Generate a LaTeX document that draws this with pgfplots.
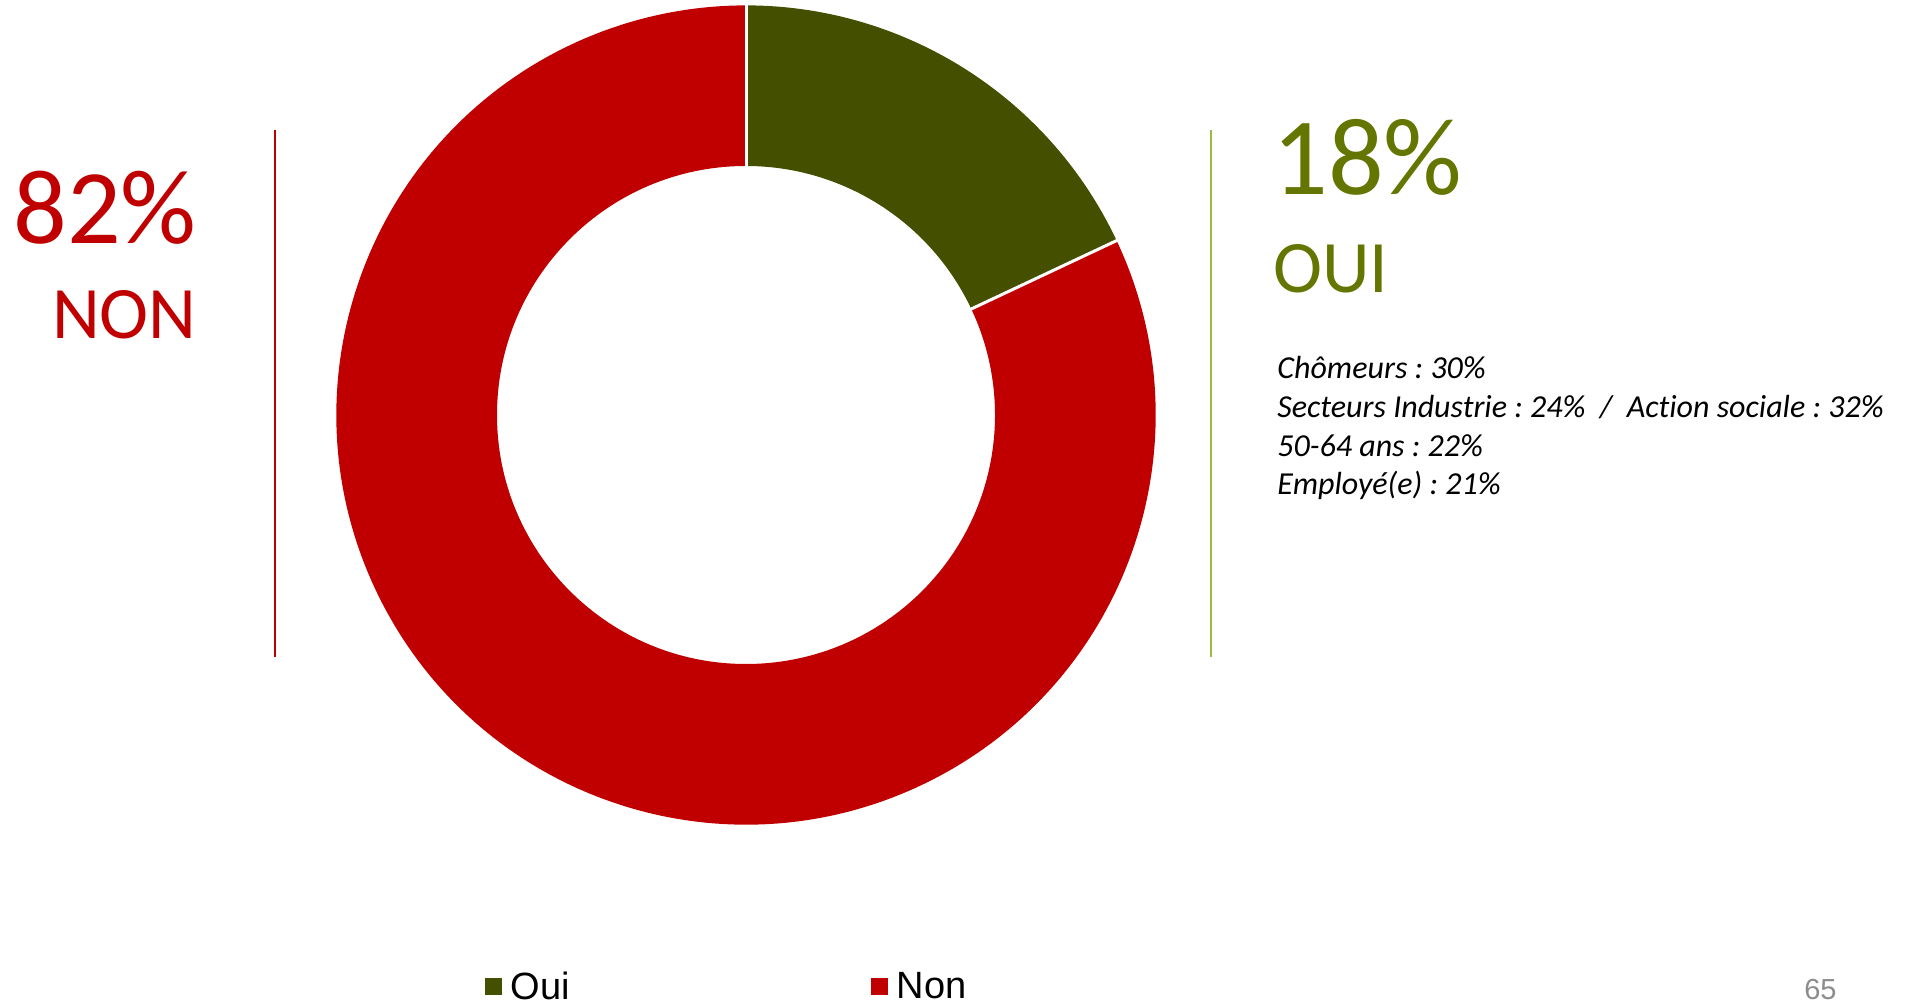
\documentclass[border=0pt]{standalone}
\usepackage{fontspec}
\setmainfont{Carlito}[Ligatures=NoCommon]
\newfontfamily\arialfont{Liberation Sans}
\usepackage{pgfplots}
\usepackage{pgfplotstable}
\pgfplotsset{compat=1.18}
\usetikzlibrary{calc}

\definecolor{ouifill}{RGB}{68,80,0}
\definecolor{nonfill}{RGB}{192,0,0}
\definecolor{ouitext}{RGB}{100,117,0}
\definecolor{ouiline}{RGB}{155,187,60}
\definecolor{pagegray}{RGB}{140,140,140}

% share of answers, in percent
\pgfplotstableread{
label value
Oui 18
Non 82
}\shares

\begin{document}
\frenchspacing
\begin{tikzpicture}
\path[use as bounding box] (0,0) rectangle (957pt,502.5pt);

\pgfplotstablegetelem{0}{value}\of\shares \let\vOui\pgfplotsretval
\pgfplotstablegetelem{1}{value}\of\shares \let\vNon\pgfplotsretval
\pgfmathsetmacro\aA{90}
\pgfmathsetmacro\aB{90-3.6*\vOui}
\pgfmathsetmacro\aC{\aB-3.6*\vNon}
\def\Ro{204.8pt}
\def\Ri{124.5pt}

\begin{axis}[
  at={(373pt,295pt)}, anchor=center,
  x=204.8pt, y=204.8pt,
  xmin=-1, xmax=1, ymin=-1, ymax=1,
  hide axis, clip=false,
  legend columns=2,
  legend style={at={(axis cs:-0.637,-1.396)}, anchor=west,
    draw=none, fill=none, inner sep=0pt, outer sep=0pt,
    font=\arialfont\fontsize{19}{22}\selectfont,
    /tikz/every even column/.append style={column sep=148.5pt},
    /tikz/every odd column/.append style={column sep=2.5pt}},
  legend image code/.code={\fill[#1] (0pt,-4pt) rectangle (8pt,4pt);},
]
\addlegendimage{ouifill}
\addlegendentry{Oui}
\addlegendimage{nonfill}
\addlegendentry{Non}

% ring sectors, clockwise from the top
\fill[ouifill] ($(axis cs:0,0)+(\aA:\Ro)$) arc[start angle=\aA, end angle=\aB, radius=\Ro]
  -- ($(axis cs:0,0)+(\aB:\Ri)$) arc[start angle=\aB, end angle=\aA, radius=\Ri] -- cycle;
\fill[nonfill] ($(axis cs:0,0)+(\aB:\Ro)$) arc[start angle=\aB, end angle=\aC, radius=\Ro]
  -- ($(axis cs:0,0)+(\aC:\Ri)$) arc[start angle=\aC, end angle=\aB, radius=\Ri] -- cycle;
\draw[white, line width=1.5pt] ($(axis cs:0,0)+(\aA:123pt)$) -- ($(axis cs:0,0)+(\aA:206pt)$);
\draw[white, line width=1.5pt] ($(axis cs:0,0)+(\aB:123pt)$) -- ($(axis cs:0,0)+(\aB:206pt)$);
\end{axis}

% side labels
\draw[nonfill, line width=1pt] (137.25pt,437.5pt) -- (137.25pt,174pt);
\draw[ouiline, line width=1pt] (605.25pt,437.5pt) -- (605.25pt,174pt);

\node[anchor=base east, inner sep=0pt, text=nonfill, font=\fontsize{53}{58}\selectfont] at (98.5pt,380.5pt) {82\%};
\node[anchor=base east, inner sep=0pt, text=nonfill, font=\fontsize{37}{42}\selectfont] at (98.5pt,333pt) {NON};

\node[anchor=base west, inner sep=0pt, text=ouitext, font=\fontsize{55}{60}\selectfont] at (636pt,405pt) {18\%};
\node[anchor=base west, inner sep=0pt, text=ouitext, font=\fontsize{37}{42}\selectfont] at (636.5pt,356pt) {OUI};

\begin{scope}[every node/.style={anchor=base west, inner sep=0pt, font=\itshape\fontsize{16}{19}\selectfont}]
\node at (638.5pt,313pt) {Chômeurs : 30\%};
\node at (638.5pt,293.5pt) {Secteurs Industrie : 24\%~~/~~Action sociale : 32\%};
\node at (638.5pt,274pt) {50-64 ans : 22\%};
\node at (638.5pt,255pt) {Employé(e) : 21\%};
\end{scope}

\node[anchor=base east, inner sep=0pt, text=pagegray, font=\arialfont\fontsize{14.5}{17}\selectfont] at (918.5pt,2.5pt) {65};
\end{tikzpicture}
\end{document}
